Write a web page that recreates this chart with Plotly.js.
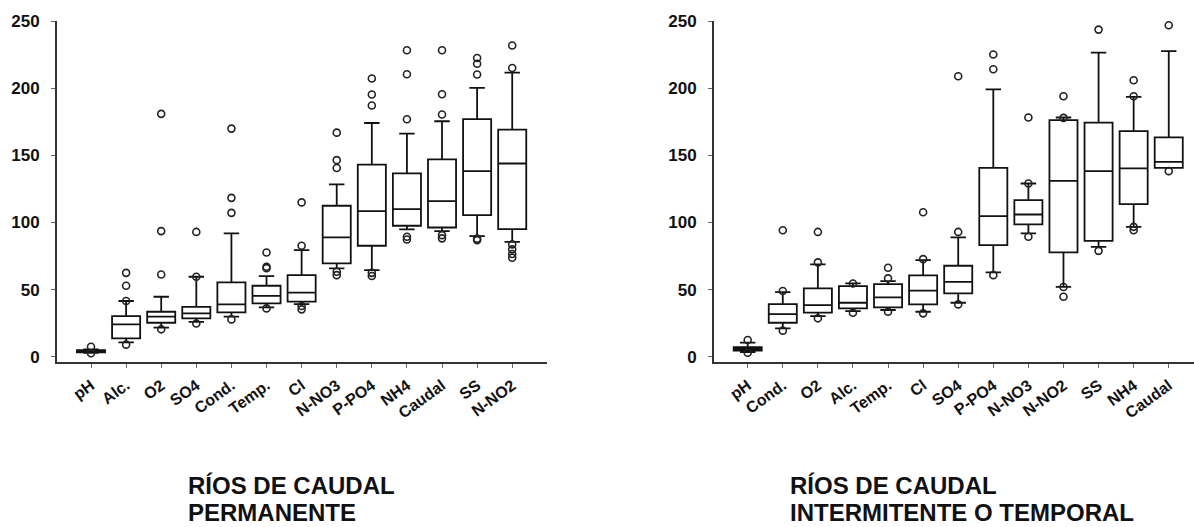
<!DOCTYPE html>
<html>
<head>
<meta charset="utf-8">
<script src="https://cdn.plot.ly/plotly-3.0.1.min.js"></script>
<style>html,body{margin:0;padding:0;background:#fff;}#chart{width:1194px;height:527px;}</style>
</head>
<body>
<div id="chart"></div>
<script>
// ---- Panel 1: Ríos de caudal permanente ----
const cats1 = ['pH','Alc.','O2','SO4','Cond.','Temp.','Cl','N-NO3','P-PO4','NH4','Caudal','SS','N-NO2'];
const q1_1  = [3.2, 13.7, 25.3, 28.6, 33.1, 39.7, 41.0, 69.5, 82.7, 97.6, 96.3, 105.5, 95.1];
const med_1 = [4.0, 24.1, 29.8, 32.3, 39.0, 45.4, 47.7, 88.9, 108.5, 110.0, 116.0, 138.3, 144.0];
const q3_1  = [4.8, 30.3, 33.5, 37.2, 55.4, 52.9, 60.8, 112.5, 143.2, 136.6, 147.0, 177.0, 169.3];
const lo_1  = [2.8, 10.7, 21.6, 26.0, 29.8, 36.8, 39.2, 65.8, 64.6, 94.9, 93.6, 89.9, 85.6];
const hi_1  = [5.5, 41.5, 44.7, 59.6, 91.9, 60.0, 79.5, 128.4, 174.2, 166.3, 175.5, 200.3, 211.8];
const out_1 = [
  [7.4, 2.6],
  [62.5, 52.9, 41.5, 9.0],
  [181, 93.6, 61.3, 20.4],
  [93, 59.6, 24.8],
  [170, 118.4, 107.2, 27.8],
  [77.7, 67, 66, 36],
  [115, 82.7, 37.8, 35.3],
  [167, 146.5, 140.7, 63.3, 60.8],
  [207.3, 195.4, 187.2, 62.5, 60.1],
  [228.4, 210.5, 177, 89.4, 87.4],
  [228.4, 195.6, 180.5, 90.6, 88.2],
  [222.6, 218.4, 210.3, 88, 86.9],
  [232, 215.2, 83.7, 80, 76.5, 73.7]
];

// ---- Panel 2: Ríos de caudal intermitente o temporal ----
const cats2 = ['pH','Cond.','O2','Alc.','Temp.','Cl','SO4','P-PO4','N-NO3','N-NO2','SS','NH4','Caudal'];
const q1_2  = [4.5, 25.3, 32.8, 36.0, 36.8, 39.0, 47.2, 83.2, 98.6, 77.7, 86.4, 113.7, 140.7];
const med_2 = [5.8, 31.8, 38.5, 40.2, 44.2, 49.2, 55.8, 104.8, 106.0, 131.0, 138.3, 140.3, 145.2];
const q3_2  = [7.2, 39.2, 50.9, 52.6, 54.1, 60.6, 67.8, 140.7, 116.7, 176.3, 174.5, 168.1, 163.4];
const lo_2  = [3.5, 21.1, 30.3, 34.0, 34.8, 33.5, 40.2, 62.8, 91.9, 52.1, 81.9, 96.8, 140.7];
const hi_2  = [10.5, 48.2, 68.8, 54.6, 56.4, 72.0, 88.9, 199.3, 129.1, 178.3, 226.7, 193.6, 227.8];
const out_2 = [
  [12.4, 3.0],
  [94.3, 49, 19.4],
  [93, 70.3, 28.6],
  [54.6, 32.8],
  [66.3, 58.4, 33.5],
  [107.7, 72.7, 32.3],
  [209, 93, 39],
  [225.2, 214.2, 60.8],
  [178.3, 129.1, 89.4],
  [194.1, 178, 52, 44.7],
  [243.8, 78.9],
  [206, 194.1, 96.8, 94.3],
  [247, 138.3]
];

const yTicks = [0, 50, 100, 150, 200, 250];
const title1Lines = ['RÍOS DE CAUDAL', 'PERMANENTE'];
const title2Lines = ['RÍOS DE CAUDAL', 'INTERMITENTE O TEMPORAL'];

const FONT = 'Liberation Sans, Arial, sans-serif';

function boxTrace(cats, q1, med, q3, lo, hi, xa, ya) {
  return {
    type: 'box', x: cats, q1: q1, median: med, q3: q3, lowerfence: lo, upperfence: hi,
    xaxis: xa, yaxis: ya, width: 0.8, whiskerwidth: 0.55,
    fillcolor: 'rgba(255,255,255,0)', line: {color: '#111', width: 1.8},
    boxpoints: false, showlegend: false, hoverinfo: 'skip'
  };
}
function outTrace(cats, outs, xa, ya) {
  const x = [], y = [];
  outs.forEach((arr, i) => arr.forEach(v => { x.push(cats[i]); y.push(v); }));
  return {
    type: 'scatter', mode: 'markers', x: x, y: y, xaxis: xa, yaxis: ya,
    marker: {symbol: 'circle-open', size: 7, color: '#222', line: {width: 1.6, color: '#222'}},
    showlegend: false, hoverinfo: 'skip'
  };
}

const data = [
  boxTrace(cats1, q1_1, med_1, q3_1, lo_1, hi_1, 'x', 'y'),
  outTrace(cats1, out_1, 'x', 'y'),
  boxTrace(cats2, q1_2, med_2, q3_2, lo_2, hi_2, 'x2', 'y2'),
  outTrace(cats2, out_2, 'x2', 'y2')
];

function xAxis(domain, range, cats, anchor) {
  return {
    domain: domain, range: range, type: 'category', categoryorder: 'array', categoryarray: cats,
    anchor: anchor, showline: true, linecolor: '#333', linewidth: 2,
    ticks: 'outside', ticklen: 4, tickcolor: '#666', tickwidth: 1,
    ticklabelstandoff: 2,
    tickangle: -36, tickfont: {family: FONT, size: 16, color: '#111', weight: 'bold'},
    showgrid: false, zeroline: false, automargin: false, fixedrange: true
  };
}
function yAxis(anchor) {
  return {
    domain: [0.3131, 0.9609], range: [-3.95, 250.5], anchor: anchor,
    tickvals: yTicks, showline: true, linecolor: '#333', linewidth: 2,
    ticks: 'outside', ticklen: 4, tickcolor: '#666', tickwidth: 1,
    ticklabelstandoff: 8,
    tickfont: {family: FONT, size: 17, color: '#111', weight: 'bold'},
    showgrid: false, zeroline: false, automargin: false, fixedrange: true
  };
}

function titleAnn(text, xpx, ypx) {
  return {text: text, xref: 'paper', yref: 'paper', x: xpx/1194, y: (527-ypx)/527,
    xanchor: 'left', yanchor: 'middle', align: 'left', showarrow: false,
    font: {family: FONT, size: 24, color: '#111', weight: 'bold'}};
}

const layout = {
  width: 1194, height: 527,
  margin: {l: 0, r: 0, t: 0, b: 0},
  paper_bgcolor: '#fff', plot_bgcolor: '#fff',
  xaxis: xAxis([0.04774, 0.4581], [-0.969, 12.99], cats1, 'y'),
  yaxis: yAxis('x'),
  xaxis2: xAxis([0.598, 1.0], [-0.96, 12.72], cats2, 'y2'),
  yaxis2: yAxis('x2'),
  annotations: [
    titleAnn(title1Lines[0], 186, 485), titleAnn(title1Lines[1], 186, 512),
    titleAnn(title2Lines[0], 788, 485), titleAnn(title2Lines[1], 788, 512)
  ]
};

Plotly.newPlot('chart', data, layout, {staticPlot: true, displayModeBar: false});
</script>
</body>
</html>
